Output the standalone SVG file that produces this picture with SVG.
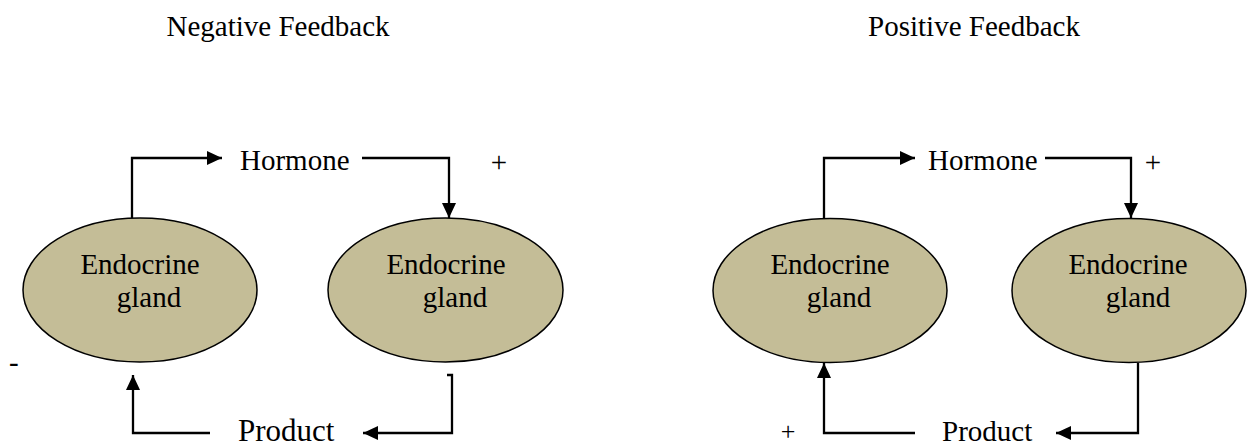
<svg xmlns="http://www.w3.org/2000/svg" width="1250" height="446" viewBox="0 0 1250 446" font-family="'Liberation Serif', 'Times New Roman', serif">
<style>
text{font-family:"Liberation Serif","Times New Roman",serif;fill:#000000;}
.t{font-size:29px;}
.c{text-anchor:middle;}
.gland{fill:#C4BD97;stroke:#000;stroke-width:1.5;}
.con path{fill:none;stroke:#000;stroke-width:2.3;}
</style>
<defs>
<marker id="ah" markerUnits="userSpaceOnUse" markerWidth="16" markerHeight="15" refX="15" refY="7" orient="auto">
<path d="M0,0 L15,7 L0,14 z" fill="#000"/>
</marker>
</defs>
<rect width="1250" height="446" fill="#fff"/>
<g id="titles">
<text class="t c" x="278" y="36">Negative Feedback</text>
<text class="t c" x="974" y="36">Positive Feedback</text>
</g>
<g id="neg-gland-1">
<ellipse class="gland" cx="140" cy="290" rx="117" ry="72"/>
<text class="t c" x="140" y="274">Endocrine</text>
<text class="t c" x="149" y="307">gland</text>
</g>
<g id="neg-gland-2">
<ellipse class="gland" cx="445.5" cy="290" rx="117.5" ry="72"/>
<text class="t c" x="446" y="274">Endocrine</text>
<text class="t c" x="455" y="307">gland</text>
</g>
<g id="pos-gland-1">
<ellipse class="gland" cx="830" cy="290.5" rx="117" ry="72"/>
<text class="t c" x="830" y="274">Endocrine</text>
<text class="t c" x="839" y="307">gland</text>
</g>
<g id="pos-gland-2">
<ellipse class="gland" cx="1129" cy="290.5" rx="117" ry="72"/>
<text class="t c" x="1128" y="274">Endocrine</text>
<text class="t c" x="1138" y="307">gland</text>
</g>
<g id="neg-hormone"><text class="t" x="240" y="170">Hormone</text></g>
<g id="pos-hormone"><text class="t" x="928" y="170">Hormone</text></g>
<g id="neg-product"><text x="238" y="441" font-size="31">Product</text></g>
<g id="pos-product"><text class="t" x="942" y="441">Product</text></g>
<g id="signs">
<text class="t c" x="499" y="172">+</text>
<text class="t c" x="1153" y="172">+</text>
<text class="c" font-size="26" x="788" y="440">+</text>
<text class="t" x="9" y="372">-</text>
</g>
<g class="con" id="connectors">
<path d="M132,218 V158 H222" marker-end="url(#ah)"/>
<path d="M362,158 H449 V218" marker-end="url(#ah)"/>
<path d="M447,375 H452 V433 H363" marker-end="url(#ah)"/>
<path d="M210,433 H133 V375" marker-end="url(#ah)"/>
<path d="M824,219 V158 H915" marker-end="url(#ah)"/>
<path d="M1045,158 H1131 V218" marker-end="url(#ah)"/>
<path d="M1138,363 V433 H1056" marker-end="url(#ah)"/>
<path d="M915,433 H824 V363" marker-end="url(#ah)"/>
</g>
</svg>
